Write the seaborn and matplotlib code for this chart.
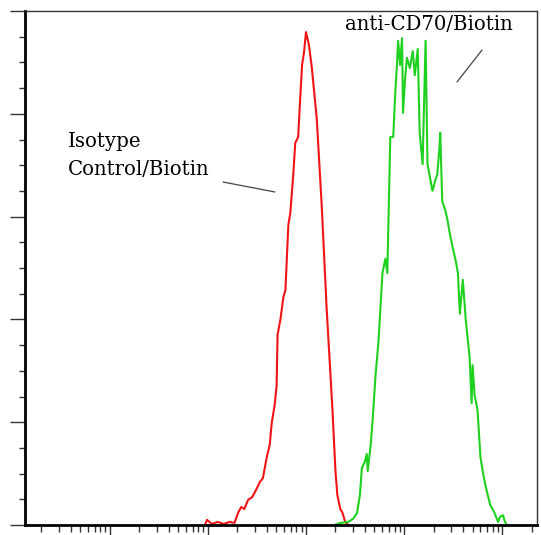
import matplotlib
matplotlib.use("Agg")
import matplotlib.pyplot as plt
import matplotlib.ticker as mticker
import seaborn as sns
import pandas as pd
import numpy as np

# fluorescence intensity as log10 values, counts as % of axis height
isotype_log = [1.97, 1.99, 2.04, 2.10, 2.16, 2.22, 2.27, 2.31, 2.34, 2.37, 2.41, 2.45,
               2.49, 2.53, 2.56, 2.60, 2.63, 2.65, 2.68, 2.70, 2.71, 2.74, 2.77, 2.79,
               2.82, 2.84, 2.87, 2.89, 2.92, 2.94, 2.96, 2.98, 3.00, 3.03, 3.06, 3.11,
               3.16, 3.21, 3.27, 3.30, 3.32, 3.35, 3.37, 3.40, 3.43]
isotype_counts = [0, 1.0, 0.2, 0.6, 0.2, 0.6, 0.4, 2.5, 3.5, 3.1, 4.9, 5.4,
                  6.8, 8.4, 9.1, 13.2, 15.6, 19.8, 23.3, 27.0, 37.0, 40.1, 44.4, 45.7,
                  58.4, 60.7, 68.1, 74.3, 75.5, 82.7, 89.5, 92.0, 95.9, 93.4, 88.9, 79.0,
                  62.3, 42.4, 22.4, 10.7, 5.8, 3.1, 2.5, 0.6, 0]

cd70_log = [3.29, 3.35, 3.43, 3.48, 3.52, 3.55, 3.57, 3.60, 3.62, 3.63, 3.66, 3.68,
            3.71, 3.74, 3.78, 3.81, 3.83, 3.86, 3.89, 3.91, 3.93, 3.94, 3.96, 3.98,
            3.99, 4.01, 4.03, 4.06, 4.09, 4.11, 4.14, 4.16, 4.19, 4.22, 4.24, 4.27,
            4.29, 4.32, 4.34, 4.36, 4.37, 4.39, 4.42, 4.44, 4.47, 4.50, 4.53, 4.55,
            4.57, 4.60, 4.63, 4.67, 4.69, 4.70, 4.72, 4.75, 4.78, 4.81, 4.83, 4.86,
            4.88, 4.92, 4.96, 4.98, 5.01, 5.03, 5.05]
cd70_counts = [0, 0.4, 0.6, 1.2, 2.3, 5.8, 11.1, 12.3, 13.8, 10.5, 15.6, 20.4,
               29.2, 35.8, 49.0, 51.8, 49.0, 75.5, 75.5, 83.7, 90.3, 94.2, 89.5, 94.7,
               80.2, 86.6, 90.9, 88.9, 92.2, 87.5, 92.6, 76.3, 70.2, 94.2, 70.2, 67.1,
               65.0, 67.1, 68.3, 73.0, 76.3, 63.0, 61.3, 59.7, 56.4, 53.7, 51.2, 49.0,
               41.1, 47.7, 39.9, 32.5, 23.7, 31.1, 25.3, 22.4, 13.2, 9.7, 7.8, 5.4,
               3.9, 2.5, 0.6, 1.6, 1.9, 0.6, 0]

labels = ["Isotype\nControl/Biotin", "anti-CD70/Biotin"]

iso = pd.DataFrame({"intensity": 10 ** np.array(isotype_log), "counts": isotype_counts})
cd70 = pd.DataFrame({"intensity": 10 ** np.array(cd70_log), "counts": cd70_counts})

sns.set_style("white")
fig = plt.figure(figsize=(5.41, 5.35), dpi=100)
ax = fig.add_axes([25 / 541, 10 / 535, 512 / 541, 514 / 535])

sns.lineplot(data=iso, x="intensity", y="counts", ax=ax, color="#f21414", lw=1.5, sort=False)
sns.lineplot(data=cd70, x="intensity", y="counts", ax=ax, color="#1fd11f", lw=1.5, sort=False)

ax.set_xscale("log")
ax.set_xlim(10 ** 0.133, 10 ** 5.357)
ax.set_ylim(0, 100)
ax.set_xlabel("")
ax.set_ylabel("")

ax.yaxis.set_major_locator(mticker.MultipleLocator(20))
ax.yaxis.set_minor_locator(mticker.MultipleLocator(5))
ax.xaxis.set_major_locator(mticker.LogLocator(base=10))
ax.xaxis.set_minor_locator(mticker.LogLocator(base=10, subs=np.arange(2, 10)))
ax.xaxis.set_major_formatter(mticker.NullFormatter())
ax.xaxis.set_minor_formatter(mticker.NullFormatter())
ax.yaxis.set_major_formatter(mticker.NullFormatter())

ax.tick_params(axis="y", which="major", direction="out", length=11, width=1, color="#333333", left=True)
ax.tick_params(axis="y", which="minor", direction="out", length=4, width=1, color="#333333", left=True)
ax.tick_params(axis="x", which="major", direction="out", length=8, width=1, color="#333333", bottom=True)
ax.tick_params(axis="x", which="minor", direction="out", length=5, width=1, color="#333333", bottom=True)

for side in ["left", "bottom"]:
    ax.spines[side].set_color("black")
    ax.spines[side].set_linewidth(2)
for side in ["top", "right"]:
    ax.spines[side].set_color("#333333")
    ax.spines[side].set_linewidth(1)

fig.text(68 / 541, 1 - 156 / 535, labels[0], family="DejaVu Serif", fontsize=14.2,
         ha="left", va="center", linespacing=1.6, color="black")
fig.text(345 / 541, 1 - 25 / 535, labels[1], family="DejaVu Serif", fontsize=14.2,
         ha="left", va="center", color="black")

# pointer lines
fig.add_artist(plt.Line2D([223 / 541, 275 / 541], [1 - 182 / 535, 1 - 192 / 535],
                          color="#444444", lw=0.9))
fig.add_artist(plt.Line2D([482 / 541, 457 / 541], [1 - 50 / 535, 1 - 82 / 535],
                          color="#444444", lw=0.9))

fig.savefig("out.png", dpi=100)
